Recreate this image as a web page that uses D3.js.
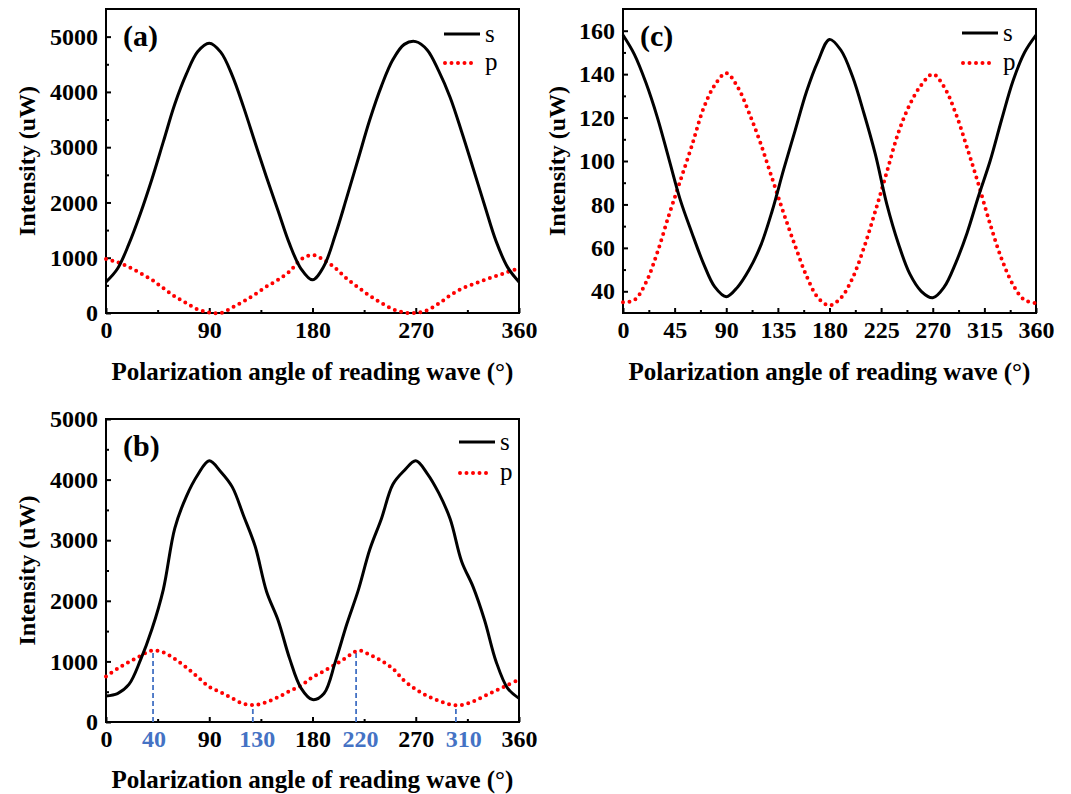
<!DOCTYPE html>
<html>
<head>
<meta charset="utf-8">
<script src="https://cdn.jsdelivr.net/npm/d3@7"></script>
<style>
  body { margin: 0; background: #fff; }
  text { font-family: "Liberation Serif", "Times New Roman", serif; }
</style>
</head>
<body>
<script>
// angles (deg) shared by every series
var angles = [0, 10, 20, 30, 40, 50, 60, 70, 80, 90, 100, 110, 120, 130, 140, 150, 160, 170, 180,
              190, 200, 210, 220, 230, 240, 250, 260, 270, 280, 290, 300, 310, 320, 330, 340, 350, 360];

// (a)
var sA = [560, 800, 1250, 1800, 2420, 3100, 3780, 4320, 4730, 4880, 4720, 4300, 3720, 3080, 2450, 1850, 1250, 800, 600,
          850, 1420, 2100, 2800, 3500, 4100, 4580, 4860, 4910, 4760, 4380, 3900, 3280, 2620, 1950, 1300, 830, 560];
var pA = [975, 920, 830, 720, 600, 450, 300, 180, 65, 10, 0, 100, 210, 340, 480, 600, 750, 970, 1050,
          960, 810, 620, 460, 310, 180, 70, 10, 0, 50, 170, 320, 440, 520, 600, 670, 740, 810];

// (b)
var sB = [430, 470, 620, 1020, 1530, 2190, 3200, 3720, 4080, 4310, 4130, 3880, 3400, 2900, 2150, 1680, 1050, 560, 370,
          470, 1000, 1620, 2180, 2850, 3350, 3920, 4150, 4310, 4100, 3780, 3350, 2650, 2230, 1680, 1000, 560, 390];
var pB = [750, 880, 990, 1090, 1180, 1150, 1040, 900, 740, 580, 490, 390, 300, 280, 330, 410, 510, 600, 740,
          840, 950, 1070, 1180, 1110, 1010, 880, 680, 540, 430, 350, 290, 280, 340, 430, 520, 610, 700];

// (c)
var sC = [158, 149, 136, 120, 101, 82, 67, 53, 42, 37.5, 42, 50, 61, 77, 96, 114, 132, 146, 156,
          151, 139, 122, 103, 80, 62, 48, 40, 37, 42, 53, 67, 84, 100, 119, 137, 150, 158];
var pC = [35, 36, 44, 58, 75, 91, 107, 124, 135, 140.5, 134, 122, 108, 92, 76, 61, 47, 37, 33.5,
          37, 46, 60, 77, 95, 113, 126, 135, 140, 134, 122, 106, 89, 71, 55, 43, 36, 34.5];

// ticks
var xTicksAB = [0, 90, 180, 270, 360];
var xMinorAB = [45, 135, 225, 315];
var xTicksC = [0, 45, 90, 135, 180, 225, 270, 315, 360];
var xMinorC = [22.5, 67.5, 112.5, 157.5, 202.5, 247.5, 292.5, 337.5];
var yTicksAB = [0, 1000, 2000, 3000, 4000, 5000];
var yMinorAB = [500, 1500, 2500, 3500, 4500];
var yTicksC = [40, 60, 80, 100, 120, 140, 160];
var yMinorC = [50, 70, 90, 110, 130, 150];

// blue guide lines in (b)
var markerAngles = [41, 128, 218, 305];
var markerTops = [1180, 280, 1180, 280];
var markerLabels = ["40", "130", "220", "310"];

var W = 1071, H = 794;
var svg = d3.select("body").append("svg")
            .attr("width", W)
            .attr("height", H);
svg.append("rect").attr("width", W).attr("height", H).attr("fill", "#fff");

function translate(x, y) {
    return "translate(" + x + "," + y + ")";
}

var serif = "'Liberation Serif', 'Times New Roman', serif";

function drawPanel(o) {
    var w = 413, h = o.h;
    var g = svg.append("g").attr("transform", translate(o.left, o.top));

    var x = d3.scaleLinear().domain([0, 360]).range([0, w]);
    var y = d3.scaleLinear().domain(o.yDomain).range([h, 0]);

    // minor ticks
    g.append("g")
     .attr("transform", translate(0, h))
     .call(d3.axisBottom(x).tickValues(o.xMinor).tickSizeInner(-3).tickSizeOuter(0).tickFormat(""));
    g.append("g")
     .call(d3.axisLeft(y).tickValues(o.yMinor).tickSizeInner(-3).tickSizeOuter(0).tickFormat(""));

    // major ticks + labels
    g.append("g")
     .attr("transform", translate(0, h))
     .call(d3.axisBottom(x).tickValues(o.xTicks).tickFormat(d3.format("d"))
             .tickSizeInner(-5).tickSizeOuter(0).tickPadding(8));
    g.append("g")
     .call(d3.axisLeft(y).tickValues(o.yTicks).tickFormat(d3.format("d"))
             .tickSizeInner(-5).tickSizeOuter(0).tickPadding(8));

    g.selectAll(".domain").remove();
    g.selectAll(".tick line").attr("stroke", "#000").attr("stroke-width", 2);
    g.selectAll(".tick text")
     .attr("fill", "#000")
     .style("font-size", "24px")
     .style("font-weight", "bold")
     .style("font-family", serif);

    // frame
    g.append("rect")
     .attr("width", w).attr("height", h)
     .attr("fill", "none").attr("stroke", "#000").attr("stroke-width", 2);

    var line = function (vals) {
        return d3.line()
                 .x(function (d, i) { return x(angles[i]); })
                 .y(function (d) { return y(d); })
                 .curve(d3.curveCatmullRom.alpha(0.5))(vals);
    };

    // guide lines (panel b)
    if (o.markers) {
        g.selectAll("line.marker")
         .data(markerAngles)
         .enter()
         .append("line")
         .attr("x1", function (d) { return x(d); })
         .attr("x2", function (d) { return x(d); })
         .attr("y1", h)
         .attr("y2", function (d, i) { return y(markerTops[i]); })
         .attr("stroke", "#4472C4")
         .attr("stroke-width", 1.8)
         .attr("stroke-dasharray", "5,3");
        g.selectAll("text.marker")
         .data(markerLabels)
         .enter()
         .append("text")
         .attr("x", function (d) { return x(+d) + 2; })
         .attr("y", h + 25)
         .attr("text-anchor", "middle")
         .attr("fill", "#4472C4")
         .style("font-size", "24px")
         .style("font-weight", "bold")
         .text(function (d) { return d; });
    }

    g.append("path")
     .attr("d", line(o.p))
     .attr("fill", "none")
     .attr("stroke", "#ff0000")
     .attr("stroke-width", 4)
     .attr("stroke-linecap", "round")
     .attr("stroke-dasharray", "0,6.5");

    g.append("path")
     .attr("d", line(o.s))
     .attr("fill", "none")
     .attr("stroke", "#000")
     .attr("stroke-width", 3)
     .attr("stroke-linejoin", "round");

    // legend
    var lg = g.append("g").attr("transform", translate(w - o.legRight, 0));
    lg.append("line")
      .attr("x1", 0).attr("x2", 36).attr("y1", o.legY[0]).attr("y2", o.legY[0])
      .attr("stroke", "#000").attr("stroke-width", 3);
    lg.append("line")
      .attr("x1", 1).attr("x2", 32).attr("y1", o.legY[1]).attr("y2", o.legY[1])
      .attr("stroke", "#ff0000").attr("stroke-width", 4)
      .attr("stroke-linecap", "round").attr("stroke-dasharray", "0,6.5");
    lg.append("text").attr("x", 41).attr("y", o.legY[0] + 8)
      .style("font-size", "25px").text("s");
    lg.append("text").attr("x", 41).attr("y", o.legY[1] + 7)
      .style("font-size", "25px").text("p");

    // panel letter
    g.append("text")
     .attr("x", 17).attr("y", 37)
     .style("font-size", "30px").style("font-weight", "bold")
     .text(o.letter);

    // axis titles
    g.append("text")
     .attr("x", w / 2).attr("y", h + o.xTitleDy)
     .attr("text-anchor", "middle")
     .style("font-size", "25px").style("font-weight", "bold")
     .text("Polarization angle of reading wave (\u00B0)");
    g.append("text")
     .attr("transform", translate(-o.yTitleDx, h / 2) + " rotate(-90)")
     .attr("text-anchor", "middle")
     .style("font-size", "24px").style("font-weight", "bold")
     .text("Intensity (uW)");
}

drawPanel({ left: 106, top: 9, h: 304, yDomain: [0, 5500], s: sA, p: pA,
            xTicks: xTicksAB, xMinor: xMinorAB, yTicks: yTicksAB, yMinor: yMinorAB,
            legRight: 75, legY: [25, 54], letter: "(a)", xTitleDy: 67, yTitleDx: 71 });

drawPanel({ left: 106, top: 419, h: 303, yDomain: [0, 5000], s: sB, p: pB,
            xTicks: xTicksAB, xMinor: xMinorAB, yTicks: yTicksAB, yMinor: yMinorAB,
            legRight: 60, legY: [23, 54], letter: "(b)", xTitleDy: 66, yTitleDx: 71, markers: true });

drawPanel({ left: 623, top: 9, h: 304, yDomain: [30, 170], s: sC, p: pC,
            xTicks: xTicksC, xMinor: xMinorC, yTicks: yTicksC, yMinor: yMinorC,
            legRight: 74, legY: [24, 54], letter: "(c)", xTitleDy: 67, yTitleDx: 58 });
</script>
</body>
</html>
